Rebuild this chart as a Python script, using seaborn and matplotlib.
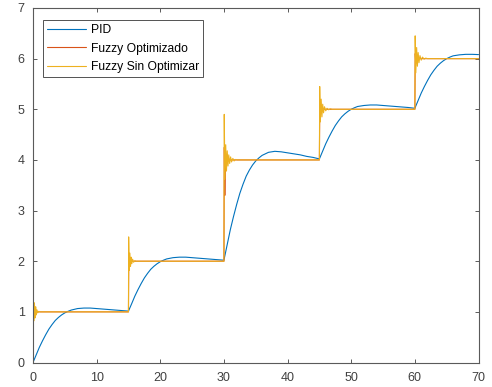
import numpy as np
import pandas as pd
import matplotlib
matplotlib.use("Agg")
import matplotlib.pyplot as plt
import seaborn as sns

# ---------------- data ----------------
step_times = [0, 15, 30, 45, 60]

# PID response: time offsets inside each segment and values
pid_tau = [0, 0.5, 1, 1.5, 2, 2.5, 3, 3.5, 4, 4.5, 5, 5.5, 6, 7, 8, 9, 10, 11, 12, 13, 14]
pid_seg1 = [0, .15, .30, .43, .55, .66, .75, .83, .89, .94, .98, 1.01, 1.035, 1.065, 1.075, 1.075, 1.065, 1.055, 1.045, 1.035, 1.025]
pid_seg2 = [1.015, 1.16, 1.31, 1.44, 1.56, 1.67, 1.76, 1.84, 1.90, 1.95, 1.99, 2.02, 2.045, 2.07, 2.08, 2.08, 2.07, 2.06, 2.05, 2.04, 2.03]
pid_seg3 = [2.02, 2.32, 2.62, 2.88, 3.12, 3.34, 3.52, 3.68, 3.80, 3.90, 3.98, 4.04, 4.09, 4.15, 4.17, 4.16, 4.14, 4.12, 4.10, 4.07, 4.05]
pid_seg4 = [4.02, 4.17, 4.32, 4.45, 4.57, 4.68, 4.77, 4.85, 4.91, 4.96, 5.00, 5.03, 5.055, 5.075, 5.085, 5.085, 5.075, 5.065, 5.055, 5.045, 5.035]
pid_seg5 = [5.02, 5.17, 5.32, 5.45, 5.57, 5.68, 5.77, 5.85, 5.91, 5.96, 6.00, 6.03, 6.055, 6.075, 6.085, 6.085, 6.08]

# Fuzzy Optimizado
opt_t = [0, 0.05, 0.15, 0.3, 0.5,
         15, 15.05, 15.15, 15.3, 15.5,
         30, 30.06, 30.14, 30.24, 30.34, 30.46, 30.6,
         45, 45.06, 45.15, 45.28, 45.45,
         60, 60.06, 60.15, 60.28, 60.45, 70]
opt_y = [0, 1.12, 0.95, 1.02, 1.0,
         1.0, 2.1, 1.95, 2.02, 2.0,
         2.0, 4.25, 3.3, 4.1, 3.92, 4.03, 4.0,
         4.0, 5.1, 4.9, 5.04, 5.0,
         5.0, 6.1, 5.9, 6.04, 6.0, 6.0]

# Fuzzy Sin Optimizar
sin_t = [0, 0.03, 0.12, 0.22, 0.32, 0.42, 0.52, 0.62, 0.75, 0.9, 1.1,
         15, 15.03, 15.12, 15.22, 15.32, 15.42, 15.52, 15.65, 15.8, 16.0, 16.2,
         30, 30.05, 30.15, 30.28, 30.4, 30.52, 30.64, 30.76, 30.9, 31.05, 31.2, 31.4, 31.6, 31.85, 32.1,
         45, 45.05, 45.15, 45.28, 45.4, 45.52, 45.65, 45.8, 46.0, 46.2, 46.45, 46.7, 47.0,
         60, 60.05, 60.15, 60.28, 60.4, 60.52, 60.65, 60.8, 61.0, 61.2, 61.45, 61.7, 62.0, 70]
sin_y = [0, 1.5, 0.82, 1.18, 0.88, 1.1, 0.94, 1.04, 0.98, 1.01, 1.0,
         1.0, 2.48, 1.82, 2.16, 1.9, 2.08, 1.95, 2.04, 1.98, 2.01, 2.0,
         2.0, 4.9, 3.62, 4.3, 3.78, 4.18, 3.88, 4.1, 3.93, 4.06, 3.96, 4.03, 3.98, 4.01, 4.0,
         4.0, 5.45, 4.75, 5.2, 4.85, 5.1, 4.93, 5.05, 4.97, 5.02, 4.99, 5.01, 5.0,
         5.0, 6.45, 5.72, 6.22, 5.85, 6.12, 5.92, 6.06, 5.97, 6.03, 5.99, 6.01, 6.0, 6.0]

labels = ["PID", "Fuzzy Optimizado", "Fuzzy Sin Optimizar"]
colors = ["#0072BD", "#D95319", "#EDB120"]
x_ticks = [0, 10, 20, 30, 40, 50, 60, 70]
y_ticks = [0, 1, 2, 3, 4, 5, 6, 7]

# ---------------- build frames ----------------
pid_t, pid_y = [], []
for t0, seg in zip(step_times, [pid_seg1, pid_seg2, pid_seg3, pid_seg4, pid_seg5]):
    for tau, v in zip(pid_tau, seg):
        pid_t.append(t0 + tau)
        pid_y.append(v)
pid_df = pd.DataFrame({"t": pid_t, "y": pid_y})
opt_df = pd.DataFrame({"t": opt_t, "y": opt_y})
sin_df = pd.DataFrame({"t": sin_t, "y": sin_y})

# ---------------- style ----------------
sns.set_theme(style="white")
plt.rcParams["font.family"] = ["Liberation Sans", "DejaVu Sans"]
axcol = "#262626"
tickcol = "#404040"

fig = plt.figure(figsize=(4.92, 3.87), dpi=100)
ax = fig.add_axes([33 / 492, 1 - 362.5 / 387, (478.5 - 33) / 492, (362.5 - 8) / 387])

lw = 0.8
for df, lab, col in zip([pid_df, opt_df, sin_df], labels, colors):
    sns.lineplot(data=df, x="t", y="y", ax=ax, color=col, linewidth=lw,
                 label=lab, estimator=None, sort=False)

ax.set_xlim(0, 70)
ax.set_ylim(0, 7)
ax.set_xticks(x_ticks)
ax.set_yticks(y_ticks)
ax.set_xlabel("")
ax.set_ylabel("")
for s in ax.spines.values():
    s.set_visible(True)
    s.set_color("#5a5a5a")
    s.set_linewidth(0.8)
ax.tick_params(axis="both", which="both", direction="in", length=3, width=0.7,
               colors="#5a5a5a", labelsize=9, top=True, right=True,
               bottom=True, left=True, labelcolor=tickcol)
ax.tick_params(axis="x", pad=7)
ax.tick_params(axis="y", pad=6)

leg = ax.legend(loc="upper left", bbox_to_anchor=(10 / 445.5, 1 - 12 / 354.5),
                borderaxespad=0, fontsize=8.7, frameon=True, fancybox=False,
                handlelength=3.2, handletextpad=0.4, labelspacing=0.52,
                borderpad=0.35)
leg.get_frame().set_edgecolor(axcol)
leg.get_frame().set_linewidth(0.7)
for t in leg.get_texts():
    t.set_color("#000000")

fig.savefig("out.png", dpi=100)
